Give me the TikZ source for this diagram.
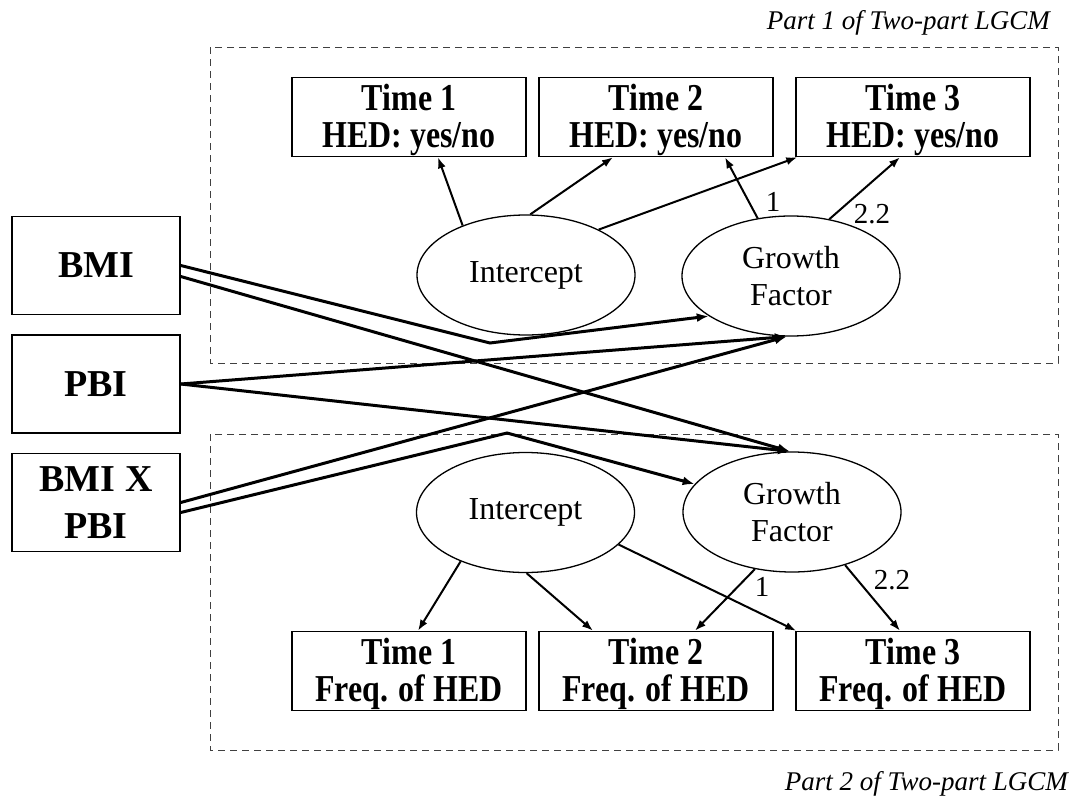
\documentclass[tikz,border=0pt]{standalone}
\usepackage{fontspec}
\setmainfont{Liberation Serif}
\newfontfamily\boxfont[FakeStretch=0.84]{Liberation Serif}
\usetikzlibrary{shapes.geometric,arrows.meta}
\newcommand{\topstrut}{\rule{0pt}{33pt}}
\tikzset{
  timebox/.style={draw, line width=1.5pt, minimum width=234pt, minimum height=79pt, inner sep=0pt, align=center, font=\boxfont\fontsize{38}{37}\selectfont\bfseries},
  predbox/.style={draw, line width=1.5pt, minimum width=168pt, minimum height=98pt, inner sep=0pt, align=center, font=\fontsize{38}{47}\selectfont\bfseries},
  latent/.style={draw, ellipse, line width=1.3pt, minimum width=218pt, minimum height=120pt, inner sep=0pt, align=center, font=\fontsize{32}{37}\selectfont},
  partbox/.style={draw=black!75, line width=1pt, dash pattern=on 7pt off 5pt},
  load/.style={line width=2pt, -{Latex[length=11pt,width=8pt]}},
  pred/.style={line width=3pt, -{Latex[length=12pt,width=9pt]}},
  coef/.style={font=\fontsize{29}{29}\selectfont, inner sep=0pt},
  parttext/.style={font=\fontsize{27}{30}\selectfont\itshape, inner sep=0pt}
}
\begin{document}
\begin{tikzpicture}[x=1pt,y=-1pt]
\useasboundingbox (0,0) rectangle (1080,798);
% part frames
\draw[partbox] (210,47) rectangle (1058,363);
\draw[partbox] (210,434) rectangle (1058,750);
\node[parttext, anchor=base east] (p1) at (1050,29) {Part 1 of Two-part LGCM};
\node[parttext, anchor=base east] (p2) at (1068,790) {Part 2 of Two-part LGCM};
% observed boxes
\node[timebox] (t1) at (409,117) {\topstrut Time 1\\HED: yes/no};
\node[timebox] (t2) at (656,117) {\topstrut Time 2\\HED: yes/no};
\node[timebox] (t3) at (913,117) {\topstrut Time 3\\HED: yes/no};
\node[timebox] (b1) at (409,671) {\topstrut Time 1\\Freq. of HED};
\node[timebox] (b2) at (656,671) {\topstrut Time 2\\Freq. of HED};
\node[timebox] (b3) at (913,671) {\topstrut Time 3\\Freq. of HED};
% predictors
\node[predbox] (bmi) at (96,265.5) {BMI};
\node[predbox] (pbi) at (96,384) {PBI};
\node[predbox] (bxp) at (96,502.5) {BMI X\\PBI};
% latent factors
\node[latent] (it) at (526,275) {Intercept};
\node[latent] (gt) at (791,276) {Growth\\Factor};
\node[latent] (ib) at (525.5,512.5) {Intercept};
\node[latent] (gb) at (792,512) {Growth\\Factor};
% top loadings
\draw[load] (it.142) -- ([xshift=29pt]t1.south);
\draw[load] (it.86) -- ([xshift=-43pt]t2.south);
\draw[load] (it.32) -- ([xshift=2pt]t3.south west);
\draw[load] (gt.120) -- ([xshift=69pt]t2.south);
\draw[load] (gt.56) -- ([xshift=-13pt]t3.south);
\node[coef] (c1t) at (773,202) {1};
\node[coef] (c2t) at (872,214) {2.2};
% bottom loadings
\draw[load] (ib.217) -- ([xshift=9pt]b1.north);
\draw[load] (ib.271) -- ([xshift=-63pt]b2.north);
\draw[load] (ib.341) -- ([xshift=1pt]b3.north west);
\draw[load] (gb.237) -- ([xshift=39pt]b2.north);
\draw[load] (gb.315) -- ([xshift=-13pt]b3.north);
\node[coef] (c1b) at (762,587) {1};
\node[coef] (c2b) at (892,580) {2.2};
% predictor paths
\coordinate (bendA) at (490,343);
\coordinate (bendD) at (507,433);
\draw[pred] (bmi.east) -- (bendA) -- (gt.206);
\draw[pred] ([yshift=-11pt]bmi.east) -- (gb.92);
\draw[pred] (pbi.east) -- (gt.266);
\draw[pred] (pbi.east) -- (gb.92);
\draw[pred] (bxp.east) -- (gt.266);
\draw[pred] ([yshift=-10pt]bxp.east) -- (bendD) -- (gb.164);
\end{tikzpicture}
\end{document}
